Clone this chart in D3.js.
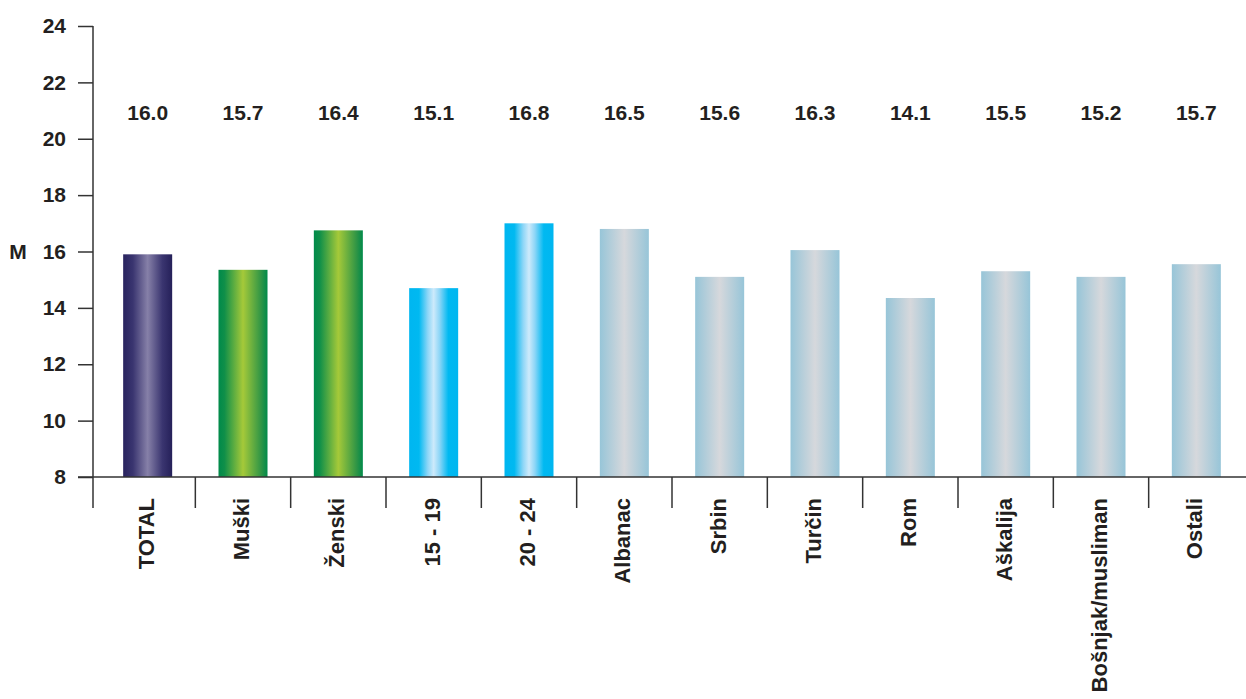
<!DOCTYPE html>
<html>
<head>
<meta charset="utf-8">
<script src="https://cdn.jsdelivr.net/npm/d3@7"></script>
<style>
  html, body { margin: 0; padding: 0; background: #ffffff; }
  svg { display: block; }
  text { font-family: "Liberation Sans", Arial, sans-serif; font-weight: bold; fill: #231f20; }
</style>
</head>
<body>
<svg id="chart" width="1246" height="699"></svg>
<script>
// ---- data ----
const categories = ["TOTAL", "Muški", "Ženski", "15 - 19", "20 - 24", "Albanac", "Srbin", "Turčin", "Rom", "Aškalija", "Bošnjak/musliman", "Ostali"];
const barValues = [15.9, 15.35, 16.75, 14.7, 17.0, 16.8, 15.1, 16.05, 14.35, 15.3, 15.1, 15.55];
const labelValues = ["16.0", "15.7", "16.4", "15.1", "16.8", "16.5", "15.6", "16.3", "14.1", "15.5", "15.2", "15.7"];
const groups = ["total", "sex", "sex", "age", "age", "eth", "eth", "eth", "eth", "eth", "eth", "eth"];
const yTicks = [8, 10, 12, 14, 16, 18, 20, 22, 24];
const yAxisTitle = "M";

// ---- layout ----
const svg = d3.select("#chart");
const axisX = 93;
const x = d3.scaleBand().domain(categories).range([100, 1244]).paddingInner(0.486).paddingOuter(0.243);
const y = d3.scaleLinear().domain([8, 24]).range([477, 26]);

// gradients
const defs = svg.append("defs");
const gradStops = {
  total: [[0, "#29235f"], [0.2, "#3a3570"], [0.5, "#8680a8"], [0.8, "#3a3570"], [1, "#252059"]],
  sex:   [[0, "#008a4a"], [0.12, "#0f8f49"], [0.5, "#a5c939"], [0.88, "#2c9446"], [1, "#008a4a"]],
  age:   [[0, "#00b6f0"], [0.2, "#00b9f1"], [0.38, "#8dd6f7"], [0.5, "#cdeafb"], [0.62, "#8dd6f7"], [0.8, "#00b9f1"], [1, "#00b6f0"]],
  eth:   [[0, "#97c5d8"], [0.5, "#d6d8dc"], [1, "#97c5d8"]]
};
Object.entries(gradStops).forEach(([k, stops]) => {
  const g = defs.append("linearGradient").attr("id", "g-" + k)
    .attr("x1", "0%").attr("x2", "100%").attr("y1", "0%").attr("y2", "0%");
  stops.forEach(([o, c]) => g.append("stop").attr("offset", o).attr("stop-color", c));
});

// bars
svg.append("g").selectAll("rect").data(categories).join("rect")
  .attr("x", d => x(d))
  .attr("width", x.bandwidth())
  .attr("y", (d, i) => y(barValues[i]))
  .attr("height", (d, i) => y(8) - y(barValues[i]))
  .attr("fill", (d, i) => "url(#g-" + groups[i] + ")");

// y axis
const yAxis = d3.axisLeft(y).tickValues(yTicks).tickSize(15).tickPadding(12).tickFormat(d3.format("d"));
const yg = svg.append("g").attr("transform", `translate(${axisX},0)`).call(yAxis);
yg.select(".domain").remove();
yg.selectAll(".tick line").attr("stroke", "#333").attr("stroke-width", 1.5);
yg.selectAll(".tick text").attr("font-size", 21).attr("font-family", "Liberation Sans, Arial, sans-serif")
  .attr("font-weight", "bold").attr("fill", "#231f20");
svg.append("line").attr("x1", axisX).attr("x2", axisX).attr("y1", y(24)).attr("y2", 508)
  .attr("stroke", "#333").attr("stroke-width", 1.5);

// baseline
svg.append("line").attr("x1", 78).attr("x2", 1246).attr("y1", y(8)).attr("y2", y(8))
  .attr("stroke", "#333").attr("stroke-width", 1.5);

// category separators
svg.append("g").selectAll("line").data(categories.slice(1)).join("line")
  .attr("x1", d => x(d) - x.step() * x.paddingInner() / 2)
  .attr("x2", d => x(d) - x.step() * x.paddingInner() / 2)
  .attr("y1", y(8)).attr("y2", 508)
  .attr("stroke", "#333").attr("stroke-width", 1.5);

// category labels
svg.append("g").selectAll("text").data(categories).join("text")
  .attr("transform", d => `translate(${x(d) + x.bandwidth() / 2 - 2},498) rotate(-90)`)
  .attr("text-anchor", "end")
  .attr("dy", "0.36em")
  .attr("font-size", 22)
  .text(d => d);

// value labels
svg.append("g").selectAll("text").data(categories).join("text")
  .attr("x", d => x(d) + x.bandwidth() / 2)
  .attr("y", y(20.95))
  .attr("dy", "0.36em")
  .attr("text-anchor", "middle")
  .attr("font-size", 21)
  .text((d, i) => labelValues[i]);

// axis title
svg.append("text").attr("x", 18).attr("y", y(16)).attr("dy", "0.36em")
  .attr("text-anchor", "middle").attr("font-size", 21).text(yAxisTitle);
</script>
</body>
</html>
